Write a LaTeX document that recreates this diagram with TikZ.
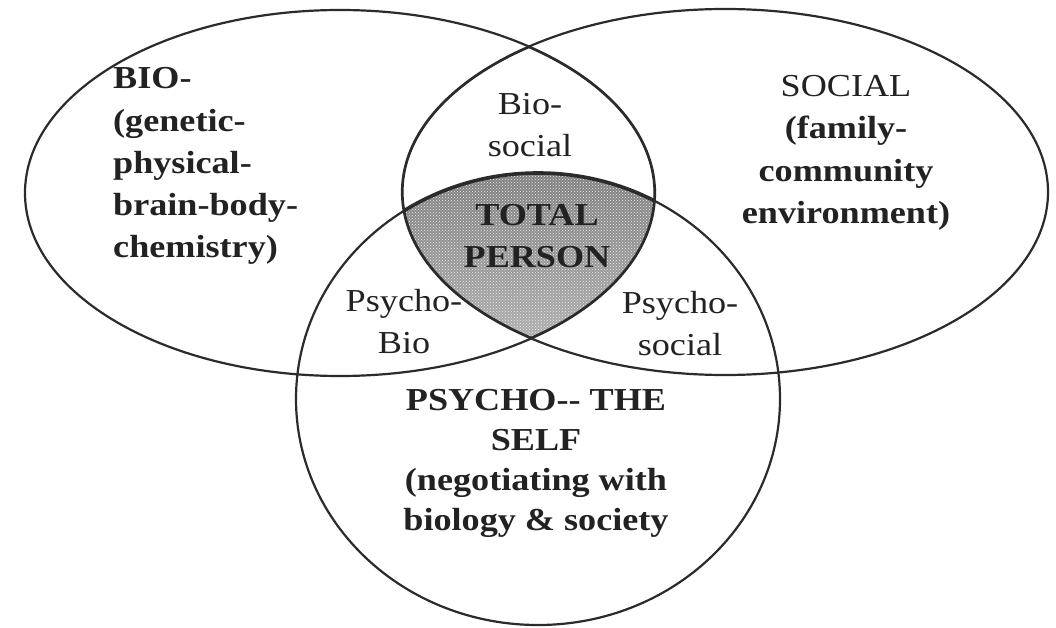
\documentclass[tikz,border=0pt]{standalone}
\usepackage{fontspec}
\setmainfont{Liberation Serif}[FakeStretch=1.13]
\usetikzlibrary{patterns}
\definecolor{linec}{HTML}{2B2B2B}
\definecolor{textc}{HTML}{222222}
\definecolor{shade}{HTML}{868686}
\tikzset{
  ring/.style={draw=linec, line width=2.2pt},
  lbl/.style={font=\fontsize{32}{42}\selectfont, text=textc, inner sep=0pt, align=center},
  lblb/.style={lbl, font=\fontsize{32}{42}\selectfont\bfseries},
}
\begin{document}
\begin{tikzpicture}[x=1pt,y=-1pt]
\useasboundingbox[fill=white] (0,0) rectangle (1056,628);
% shaded centre (TOTAL PERSON)
\begin{scope}
  \clip (340,193) ellipse [x radius=315pt, y radius=183pt];
  \clip (725,192) ellipse [x radius=323pt, y radius=183pt];
  \fill[shade] (538,399) ellipse [x radius=242pt, y radius=226pt];
  \fill[pattern=crosshatch dots, pattern color=white!85!gray] (538,399) ellipse [x radius=242pt, y radius=226pt];
  \draw[draw=linec, line width=3.6pt] (538,399) ellipse [x radius=242pt, y radius=226pt];
  \draw[draw=linec, line width=3.2pt] (340,193) ellipse [x radius=315pt, y radius=183pt];
  \draw[draw=linec, line width=3.2pt] (725,192) ellipse [x radius=323pt, y radius=183pt];
\end{scope}
% the three sets
\draw[ring] (340,193) ellipse [x radius=315pt, y radius=183pt];
\draw[ring] (725,192) ellipse [x radius=323pt, y radius=183pt];
\draw[ring] (538,399) ellipse [x radius=242pt, y radius=226pt];
% labels (anchor = baseline of the last line)
\node[lblb, align=left, anchor=base west] (bio) at (113,257) {BIO-\\(genetic-\\physical-\\brain-body-\\chemistry)};
\node[lbl, anchor=base] (biosocial) at (530,157) {Bio-\\social};
\node[lblb, anchor=base] (social) at (846,223) {\mdseries SOCIAL\\(family-\\community\\environment)};
\node[lblb, anchor=base] (total) at (537,267) {TOTAL\\PERSON};
\node[lbl, anchor=base] (psychobio) at (404,353) {Psycho-\\Bio};
\node[lbl, anchor=base] (psychosocial) at (680,355) {Psycho-\\social};
\node[lblb, font=\fontsize{32}{40}\selectfont\bfseries, anchor=base] (psycho) at (536,530) {PSYCHO{-}{-} THE\\SELF\\(negotiating with\\biology \& society};
\end{tikzpicture}
\end{document}
